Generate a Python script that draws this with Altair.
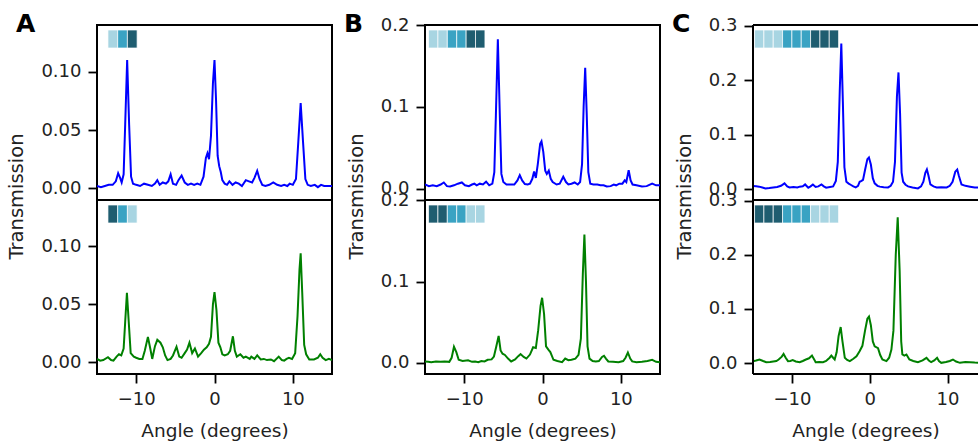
import altair as alt
import pandas as pd

# ---------------- data ----------------
a_top_x = [-15.0,-14.5,-14.0,-13.5,-13.0,-12.6,-12.3,-12.05,-11.85,-11.6,-11.4,-11.15,-10.9,-10.65,-10.4,-10.0,-9.5,-9.0,-8.5,-8.0,-7.6,-7.3,-7.0,-6.6,-6.2,-5.9,-5.6,-5.3,-4.9,-4.6,-4.2,-3.8,-3.4,-3.0,-2.6,-2.2,-1.8,-1.4,-1.1,-0.9,-0.7,-0.45,-0.2,0.0,0.2,0.4,0.6,0.8,1.0,1.3,1.6,1.9,2.3,2.7,3.1,3.5,4.0,4.4,4.8,5.1,5.45,5.75,6.1,6.5,7.0,7.5,8.0,8.5,8.9,9.3,9.6,10.0,10.4,10.7,11.0,11.3,11.6,11.9,12.3,12.8,13.2,13.6,14.0,14.5,15.0]
a_top_y = [0.002,0.001,0.002,0.003,0.003,0.006,0.013,0.009,0.005,0.012,0.055,0.110,0.055,0.010,0.004,0.003,0.002,0.004,0.003,0.002,0.004,0.007,0.003,0.005,0.004,0.006,0.012,0.004,0.003,0.007,0.011,0.005,0.003,0.004,0.003,0.004,0.003,0.010,0.026,0.030,0.025,0.045,0.090,0.110,0.075,0.028,0.019,0.014,0.007,0.004,0.003,0.006,0.003,0.005,0.004,0.002,0.007,0.006,0.005,0.009,0.015,0.008,0.003,0.002,0.003,0.005,0.003,0.002,0.003,0.002,0.004,0.003,0.008,0.040,0.073,0.040,0.008,0.003,0.002,0.003,0.001,0.003,0.002,0.002,0.002]

a_bot_x = [-15.0,-14.6,-14.2,-13.6,-13.2,-12.9,-12.5,-12.2,-11.9,-11.6,-11.4,-11.18,-10.95,-10.7,-10.3,-10.0,-9.6,-9.2,-8.9,-8.5,-8.2,-7.95,-7.6,-7.3,-6.9,-6.6,-6.3,-6.0,-5.6,-5.3,-4.85,-4.5,-4.2,-3.8,-3.5,-3.2,-2.85,-2.5,-2.1,-1.7,-1.35,-1.0,-0.7,-0.45,-0.2,0.0,0.25,0.5,0.75,1.0,1.3,1.7,2.0,2.35,2.6,2.85,3.3,3.7,4.0,4.5,4.7,5.1,5.45,5.9,6.3,6.7,7.2,7.6,8.2,8.6,8.9,9.2,9.5,9.9,10.3,10.6,10.85,11.0,11.2,11.45,11.7,12.1,12.7,13.2,13.5,13.8,14.2,14.6,15.0]
a_bot_y = [0.003,0.0015,0.002,0.0045,0.002,0.0015,0.005,0.007,0.006,0.012,0.035,0.060,0.035,0.008,0.005,0.004,0.003,0.003,0.010,0.022,0.012,0.003,0.014,0.0195,0.017,0.013,0.006,0.002,0.003,0.006,0.0135,0.005,0.004,0.008,0.011,0.017,0.008,0.012,0.005,0.008,0.011,0.013,0.016,0.022,0.050,0.0605,0.045,0.017,0.013,0.007,0.006,0.007,0.010,0.0225,0.010,0.005,0.007,0.004,0.005,0.003,0.005,0.003,0.006,0.0025,0.003,0.002,0.0025,0.001,0.005,0.002,0.0015,0.003,0.004,0.003,0.008,0.040,0.080,0.094,0.060,0.015,0.007,0.0025,0.0025,0.004,0.007,0.004,0.002,0.003,0.002]

b_top_x = [-15.0,-14.5,-14.0,-13.5,-13.0,-12.6,-12.2,-11.8,-11.3,-10.8,-10.3,-9.9,-9.4,-9.0,-8.7,-8.4,-8.0,-7.6,-7.2,-6.8,-6.4,-6.15,-5.95,-5.7,-5.45,-5.25,-5.0,-4.6,-4.2,-3.6,-3.2,-2.9,-2.6,-2.25,-1.9,-1.6,-1.3,-1.07,-0.85,-0.6,-0.3,-0.13,0.1,0.35,0.55,0.8,1.05,1.3,1.8,2.2,2.65,3.0,3.3,3.7,4.1,4.5,4.8,5.05,5.25,5.45,5.65,5.85,6.1,6.5,7.0,7.4,7.8,8.2,8.7,9.1,9.4,9.8,10.2,10.5,10.7,11.0,11.25,11.5,12.0,12.7,13.3,14.0,14.5,15.0]
b_top_y = [0.005,0.003,0.004,0.003,0.005,0.0075,0.003,0.0025,0.004,0.006,0.0075,0.004,0.003,0.005,0.006,0.004,0.006,0.005,0.0085,0.004,0.006,0.020,0.090,0.183,0.090,0.018,0.008,0.005,0.005,0.005,0.010,0.0165,0.010,0.0055,0.005,0.006,0.012,0.021,0.013,0.030,0.055,0.058,0.045,0.022,0.018,0.022,0.012,0.008,0.005,0.006,0.0145,0.008,0.005,0.006,0.0075,0.005,0.008,0.030,0.100,0.148,0.090,0.020,0.006,0.005,0.005,0.004,0.004,0.0025,0.003,0.005,0.004,0.006,0.006,0.010,0.008,0.0225,0.010,0.005,0.004,0.0025,0.003,0.006,0.004,0.004]

b_bot_x = [-15.0,-14.6,-14.2,-13.6,-13.0,-12.5,-11.9,-11.6,-11.3,-11.0,-10.7,-10.2,-9.5,-9.0,-8.6,-8.2,-7.8,-7.4,-7.0,-6.5,-6.2,-5.9,-5.6,-5.35,-5.1,-4.8,-4.4,-4.0,-3.5,-3.1,-2.8,-2.4,-2.05,-1.6,-1.2,-0.85,-0.55,-0.25,-0.05,0.2,0.45,0.75,1.0,1.4,1.9,2.5,2.9,3.3,3.7,4.2,4.6,4.9,5.15,5.35,5.55,5.75,6.0,6.4,6.8,7.2,7.6,7.85,8.1,8.4,9.0,9.7,10.3,10.6,10.9,11.2,11.45,12.0,12.7,13.4,14.0,14.5,15.0]
b_bot_y = [0.0015,0.001,0.0005,0.0015,0.001,0.0015,0.001,0.006,0.0195,0.013,0.0035,0.002,0.003,0.001,0.0015,0.0005,0.002,0.0015,0.0035,0.004,0.0075,0.020,0.033,0.015,0.011,0.0095,0.005,0.0015,0.004,0.008,0.0105,0.007,0.005,0.010,0.019,0.018,0.040,0.070,0.080,0.060,0.020,0.016,0.013,0.0035,0.002,0.0005,0.005,0.003,0.0035,0.005,0.0095,0.030,0.110,0.158,0.100,0.020,0.005,0.002,0.0015,0.002,0.007,0.0085,0.005,0.0015,0.001,0.0005,0.002,0.006,0.0125,0.005,0.0015,0.0005,0.001,0.002,0.0035,0.001,0.0005]

c_top_x = [-15.0,-14.6,-14.2,-13.8,-13.4,-12.9,-12.4,-11.9,-11.4,-10.95,-10.6,-10.3,-9.8,-9.3,-9.0,-8.6,-8.3,-7.9,-7.6,-7.3,-6.95,-6.6,-6.2,-5.9,-5.6,-5.1,-4.7,-4.35,-4.1,-3.85,-3.65,-3.45,-3.25,-3.0,-2.7,-2.4,-2.1,-1.8,-1.5,-1.29,-1.05,-0.86,-0.6,-0.3,-0.1,0.15,0.4,0.64,1.0,1.3,1.8,2.36,2.7,3.0,3.25,3.5,3.7,3.9,4.1,4.3,4.6,4.93,5.5,6.2,6.6,6.9,7.15,7.35,7.55,7.8,8.2,8.6,9.2,9.9,10.3,10.65,11.0,11.25,11.45,11.8,12.3,12.9,13.5,14.0,14.5,15.0]
c_top_y = [0.0055,0.005,0.0045,0.003,0.0012,0.002,0.003,0.004,0.006,0.0105,0.005,0.003,0.004,0.003,0.0045,0.005,0.0085,0.0025,0.005,0.0085,0.004,0.005,0.0085,0.005,0.0025,0.004,0.005,0.015,0.050,0.180,0.267,0.160,0.040,0.0135,0.010,0.0075,0.005,0.003,0.006,0.0135,0.015,0.017,0.035,0.055,0.058,0.045,0.020,0.0105,0.006,0.0045,0.0035,0.003,0.006,0.0135,0.050,0.170,0.214,0.140,0.030,0.0135,0.008,0.005,0.003,0.0012,0.005,0.0135,0.030,0.036,0.025,0.0085,0.005,0.003,0.0035,0.003,0.006,0.0135,0.032,0.036,0.025,0.0085,0.006,0.0045,0.003,0.003,0.004,0.003]

c_bot_x = [-15.0,-14.6,-14.16,-13.7,-13.3,-12.8,-12.4,-12.0,-11.7,-11.3,-11.07,-10.8,-10.5,-10.2,-9.9,-9.5,-9.0,-8.6,-8.2,-7.8,-7.42,-7.1,-6.95,-6.5,-6.0,-5.6,-5.4,-5.15,-4.93,-4.7,-4.5,-4.25,-4.0,-3.73,-3.5,-3.2,-2.9,-2.55,-2.1,-1.7,-1.3,-0.94,-0.6,-0.3,-0.09,0.15,0.4,0.64,1.07,1.35,1.63,2.15,2.5,2.79,3.05,3.35,3.6,3.85,4.05,4.2,4.45,4.72,5.1,5.6,6.2,6.8,7.3,7.6,7.9,8.3,8.66,8.9,9.2,9.8,10.3,10.7,11.1,11.6,12.3,12.9,13.5,14.0,14.5,15.0]
c_bot_y = [0.0037,0.005,0.0067,0.004,0.0018,0.002,0.003,0.004,0.0067,0.012,0.017,0.010,0.0037,0.004,0.0055,0.003,0.0018,0.004,0.0067,0.009,0.014,0.006,0.0018,0.002,0.0018,0.004,0.0067,0.010,0.014,0.010,0.0067,0.020,0.050,0.0666,0.040,0.0098,0.006,0.0037,0.008,0.0128,0.022,0.032,0.060,0.082,0.086,0.070,0.040,0.031,0.0276,0.015,0.0067,0.0037,0.010,0.025,0.060,0.200,0.269,0.170,0.040,0.016,0.014,0.016,0.0067,0.004,0.0018,0.005,0.0098,0.005,0.0018,0.005,0.0098,0.004,0.0006,0.002,0.004,0.0067,0.003,0.0006,0.002,0.0018,0.001,0.0006,0.001,0.001]

# colour squares (shade codes) per panel
LIGHT, MID, DARK = "#a8d5e2", "#3aa3c3", "#1f5d70"
a_top_sq = [LIGHT, MID, DARK]
a_bot_sq = [DARK, MID, LIGHT]
b_top_sq = [LIGHT, LIGHT, MID, MID, DARK, DARK]
b_bot_sq = [DARK, DARK, MID, MID, LIGHT, LIGHT]
c_top_sq = [LIGHT] * 3 + [MID] * 3 + [DARK] * 3
c_bot_sq = [DARK] * 3 + [MID] * 3 + [LIGHT] * 3
sq_start = {"A": -13.6, "B": -14.55, "C": -14.8}
sq_step = {"A": 1.24, "B": 1.2, "C": 1.2}

x_ticks = [-10, 0, 10]
# panel C is cut off by the right edge of the figure (as in the reference)
x_dom = {"A": [-15, 15], "B": [-15, 15], "C": [-15, 13.92]}
width = {"A": 235, "B": 235, "C": 225}
H_TOP = 175
H_BOT = 174
FONT = "DejaVu Sans"


def squares_df(colors, start, step):
    return pd.DataFrame({
        "x0": [start + i * step for i in range(len(colors))],
        "x1": [start + (i + 1) * step for i in range(len(colors))],
        "c": colors,
    })


def panel(xs, ys, color, dom, yticks, fmt, sq, key, top):
    df = pd.DataFrame({"angle": xs, "T": ys})
    W = width[key]
    H = H_TOP if top else H_BOT
    xscale = alt.Scale(domain=x_dom[key], nice=False, zero=False)
    if top:
        xaxis = None
        yaxis = alt.Axis(values=yticks, format=fmt, title="Transmission",
                         titleY=171, titleAlign="center", titleFontSize=19.5,
                         titleFontWeight="normal", titlePadding=14)
    else:
        xaxis = alt.Axis(values=x_ticks, format="d", title="Angle (degrees)",
                         titleFontSize=18.5, titleFontWeight="normal", titlePadding=13)
        yaxis = alt.Axis(values=yticks, format=fmt, title="")
    line = alt.Chart(df).mark_line(color=color, strokeWidth=2, clip=True).encode(
        x=alt.X("angle:Q", scale=xscale, axis=xaxis),
        y=alt.Y("T:Q", scale=alt.Scale(domain=dom, nice=False, zero=False), axis=yaxis),
    )
    rects = alt.Chart(squares_df(sq, sq_start[key], sq_step[key])).mark_rect(
        stroke="white", strokeWidth=0.7, clip=True
    ).encode(
        x=alt.X("x0:Q", scale=xscale),
        x2="x1:Q",
        y=alt.value(5),
        y2=alt.value(23),
        color=alt.Color("c:N", scale=None),
    )
    layers = [line, rects]
    if top:
        lab = alt.Chart(pd.DataFrame({"t": [key]})).mark_text(
            align="left", baseline="alphabetic", fontSize=25, fontWeight="bold",
            font=FONT, color="black"
        ).encode(x=alt.value(-81), y=alt.value(7), text="t:N")
        layers.append(lab)
    props = dict(width=W, height=H)
    if key == "C":
        # open frame on the right side: left, top and bottom edges only
        one = pd.DataFrame({"k": [0]})
        rule = alt.Chart(one).mark_rule(color="black", strokeWidth=2)
        layers += [
            rule.encode(x=alt.value(0), y=alt.value(0), y2=alt.value(H)),
            rule.encode(x=alt.value(0), x2=alt.value(W), y=alt.value(0)),
            rule.encode(x=alt.value(0), x2=alt.value(W), y=alt.value(H)),
        ]
        props["view"] = alt.ViewBackground(strokeOpacity=0)
    return alt.layer(*layers).properties(**props)


A_DOM = [-0.010, 0.140]
B_DOM = [-0.014, 0.2005]
C_DOM = [-0.020, 0.301]
BLUE, GREEN = "#0000ff", "#008000"

panels = [
    panel(a_top_x, a_top_y, BLUE, A_DOM, [0, 0.05, 0.10], ".2f", a_top_sq, "A", True),
    panel(b_top_x, b_top_y, BLUE, B_DOM, [0, 0.1, 0.2], ".1f", b_top_sq, "B", True),
    panel(c_top_x, c_top_y, BLUE, C_DOM, [0, 0.1, 0.2, 0.3], ".1f", c_top_sq, "C", True),
    panel(a_bot_x, a_bot_y, GREEN, A_DOM, [0, 0.05, 0.10], ".2f", a_bot_sq, "A", False),
    panel(b_bot_x, b_bot_y, GREEN, B_DOM, [0, 0.1, 0.2], ".1f", b_bot_sq, "B", False),
    panel(c_bot_x, c_bot_y, GREEN, C_DOM, [0, 0.1, 0.2, 0.3], ".1f", c_bot_sq, "C", False),
]

chart = alt.concat(*panels, columns=3, spacing={"row": 0, "column": 93}, bounds="flush").properties(
    padding={"left": 5, "top": 11, "right": 0, "bottom": 0},
    background="white",
).configure_view(
    stroke="black", strokeWidth=2
).configure_axis(
    domain=False, grid=False, ticks=True, tickSize=9, tickWidth=1.8, tickColor="black",
    labelFont=FONT, labelFontSize=18, labelColor="#222222", labelPadding=7,
    labelFlush=False, labelOverlap=False,
    titleFont=FONT, titleColor="#222222",
)

chart.save("out.html", embed_options={"renderer": "svg", "actions": False})
